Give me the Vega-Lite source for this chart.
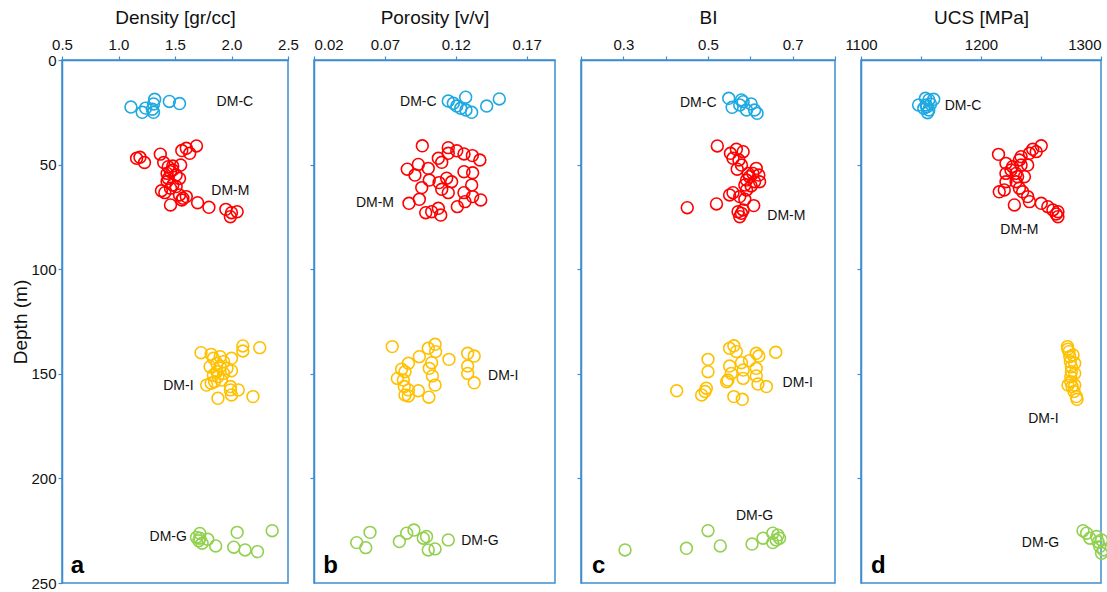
{
  "$schema": "https://vega.github.io/schema/vega-lite/v6.json",
  "padding": {"left": 11, "top": 7, "right": 0, "bottom": 5},
  "background": "white",
  "spacing": 26,
  "bounds": "flush",
  "config": {
    "font": "Liberation Sans",
    "view": {"stroke": "#3C8DD2", "strokeWidth": 1.5},
    "axis": {
      "domainColor": "#3C8DD2", "domainWidth": 1.5, "tickColor": "#3C8DD2", "tickWidth": 1.2,
      "tickSize": 4, "labelFont": "Liberation Sans", "titleFont": "Liberation Sans",
      "labelFontSize": 15, "titleFontSize": 19, "titleFontWeight": "normal",
      "labelColor": "#111", "titleColor": "#111", "grid": false, "labelPadding": 4,
      "labelOverlap": false, "labelFlush": false, "titlePadding": 10
    }
  },
  "datasets": {
    "pts": [
      {"p":"a","g":"DM-C","v":1.11,"d":22.5},{"p":"a","g":"DM-C","v":1.21,"d":25},{"p":"a","g":"DM-C","v":1.24,"d":23},{"p":"a","g":"DM-C","v":1.32,"d":18.8},{"p":"a","g":"DM-C","v":1.31,"d":21},{"p":"a","g":"DM-C","v":1.30,"d":23.5},{"p":"a","g":"DM-C","v":1.31,"d":25},{"p":"a","g":"DM-C","v":1.45,"d":19.8},{"p":"a","g":"DM-C","v":1.54,"d":20.8},
      {"p":"a","g":"DM-M","v":1.16,"d":47},{"p":"a","g":"DM-M","v":1.19,"d":46.5},{"p":"a","g":"DM-M","v":1.23,"d":49},{"p":"a","g":"DM-M","v":1.37,"d":45},{"p":"a","g":"DM-M","v":1.40,"d":49},{"p":"a","g":"DM-M","v":1.44,"d":51},{"p":"a","g":"DM-M","v":1.48,"d":50.7},{"p":"a","g":"DM-M","v":1.55,"d":50.2},{"p":"a","g":"DM-M","v":1.56,"d":43.3},{"p":"a","g":"DM-M","v":1.60,"d":42.2},{"p":"a","g":"DM-M","v":1.63,"d":44.6},{"p":"a","g":"DM-M","v":1.69,"d":41.1},{"p":"a","g":"DM-M","v":1.43,"d":54.2},{"p":"a","g":"DM-M","v":1.46,"d":53.4},{"p":"a","g":"DM-M","v":1.48,"d":52.6},{"p":"a","g":"DM-M","v":1.51,"d":55},{"p":"a","g":"DM-M","v":1.54,"d":56.6},{"p":"a","g":"DM-M","v":1.43,"d":58.1},{"p":"a","g":"DM-M","v":1.38,"d":62.5},{"p":"a","g":"DM-M","v":1.41,"d":63.4},{"p":"a","g":"DM-M","v":1.46,"d":61.3},{"p":"a","g":"DM-M","v":1.48,"d":59.8},{"p":"a","g":"DM-M","v":1.54,"d":64.5},{"p":"a","g":"DM-M","v":1.56,"d":66.9},{"p":"a","g":"DM-M","v":1.57,"d":66.1},{"p":"a","g":"DM-M","v":1.60,"d":65.3},{"p":"a","g":"DM-M","v":1.46,"d":69.3},{"p":"a","g":"DM-M","v":1.70,"d":68.2},{"p":"a","g":"DM-M","v":1.80,"d":70.4},{"p":"a","g":"DM-M","v":1.95,"d":71.4},{"p":"a","g":"DM-M","v":2.0,"d":73},{"p":"a","g":"DM-M","v":2.05,"d":72.5},{"p":"a","g":"DM-M","v":1.99,"d":74.9},{"p":"a","g":"DM-M","v":1.51,"d":60.5},{"p":"a","g":"DM-M","v":1.44,"d":56.6},
      {"p":"a","g":"DM-I","v":1.73,"d":139.9},{"p":"a","g":"DM-I","v":1.82,"d":140.7},{"p":"a","g":"DM-I","v":1.84,"d":142.6},{"p":"a","g":"DM-I","v":1.87,"d":145},{"p":"a","g":"DM-I","v":1.90,"d":146.6},{"p":"a","g":"DM-I","v":1.93,"d":144.2},{"p":"a","g":"DM-I","v":2.0,"d":142.6},{"p":"a","g":"DM-I","v":2.10,"d":136.7},{"p":"a","g":"DM-I","v":2.10,"d":139.1},{"p":"a","g":"DM-I","v":2.25,"d":137.5},{"p":"a","g":"DM-I","v":1.78,"d":155.4},{"p":"a","g":"DM-I","v":1.82,"d":154.5},{"p":"a","g":"DM-I","v":1.84,"d":150.6},{"p":"a","g":"DM-I","v":1.87,"d":149},{"p":"a","g":"DM-I","v":1.88,"d":151.4},{"p":"a","g":"DM-I","v":1.93,"d":149.8},{"p":"a","g":"DM-I","v":1.96,"d":147.4},{"p":"a","g":"DM-I","v":2.0,"d":148.5},{"p":"a","g":"DM-I","v":1.88,"d":161.7},{"p":"a","g":"DM-I","v":1.99,"d":157.7},{"p":"a","g":"DM-I","v":2.0,"d":160.1},{"p":"a","g":"DM-I","v":2.06,"d":157.7},{"p":"a","g":"DM-I","v":2.19,"d":160.9},{"p":"a","g":"DM-I","v":1.85,"d":153.8},{"p":"a","g":"DM-I","v":1.91,"d":153},{"p":"a","g":"DM-I","v":1.99,"d":156.1},{"p":"a","g":"DM-I","v":1.81,"d":146.6},{"p":"a","g":"DM-I","v":1.90,"d":141.8},
      {"p":"a","g":"DM-G","v":1.72,"d":226.3},{"p":"a","g":"DM-G","v":1.69,"d":228.2},{"p":"a","g":"DM-G","v":1.71,"d":229.8},{"p":"a","g":"DM-G","v":1.74,"d":231},{"p":"a","g":"DM-G","v":1.79,"d":229.1},{"p":"a","g":"DM-G","v":1.86,"d":232.3},{"p":"a","g":"DM-G","v":2.02,"d":232.9},{"p":"a","g":"DM-G","v":2.05,"d":225.8},{"p":"a","g":"DM-G","v":2.12,"d":234.2},{"p":"a","g":"DM-G","v":2.23,"d":235},{"p":"a","g":"DM-G","v":2.36,"d":225},{"p":"a","g":"DM-G","v":1.72,"d":228.6},

      {"p":"b","g":"DM-C","v":0.1147,"d":19.6},{"p":"b","g":"DM-C","v":0.1183,"d":20.7},{"p":"b","g":"DM-C","v":0.1207,"d":22},{"p":"b","g":"DM-C","v":0.1235,"d":23.1},{"p":"b","g":"DM-C","v":0.127,"d":17.8},{"p":"b","g":"DM-C","v":0.1312,"d":25},{"p":"b","g":"DM-C","v":0.1272,"d":23.9},{"p":"b","g":"DM-C","v":0.1418,"d":22},{"p":"b","g":"DM-C","v":0.1507,"d":18.6},
      {"p":"b","g":"DM-M","v":0.0964,"d":41},{"p":"b","g":"DM-M","v":0.1147,"d":41.9},{"p":"b","g":"DM-M","v":0.1207,"d":43.4},{"p":"b","g":"DM-M","v":0.1147,"d":44.6},{"p":"b","g":"DM-M","v":0.1258,"d":44.9},{"p":"b","g":"DM-M","v":0.1317,"d":45.7},{"p":"b","g":"DM-M","v":0.137,"d":47.8},{"p":"b","g":"DM-M","v":0.1077,"d":47},{"p":"b","g":"DM-M","v":0.1101,"d":48.9},{"p":"b","g":"DM-M","v":0.0936,"d":49.9},{"p":"b","g":"DM-M","v":0.0858,"d":52.2},{"p":"b","g":"DM-M","v":0.0912,"d":55},{"p":"b","g":"DM-M","v":0.1006,"d":51.8},{"p":"b","g":"DM-M","v":0.1258,"d":53.4},{"p":"b","g":"DM-M","v":0.1319,"d":53.9},{"p":"b","g":"DM-M","v":0.1013,"d":57.4},{"p":"b","g":"DM-M","v":0.1082,"d":58.6},{"p":"b","g":"DM-M","v":0.1136,"d":56.5},{"p":"b","g":"DM-M","v":0.1171,"d":58.2},{"p":"b","g":"DM-M","v":0.1312,"d":59.8},{"p":"b","g":"DM-M","v":0.096,"d":61},{"p":"b","g":"DM-M","v":0.1101,"d":61.8},{"p":"b","g":"DM-M","v":0.1147,"d":63.4},{"p":"b","g":"DM-M","v":0.1258,"d":63.4},{"p":"b","g":"DM-M","v":0.1319,"d":65.3},{"p":"b","g":"DM-M","v":0.0943,"d":66.6},{"p":"b","g":"DM-M","v":0.087,"d":68.5},{"p":"b","g":"DM-M","v":0.1211,"d":70.1},{"p":"b","g":"DM-M","v":0.1265,"d":67.7},{"p":"b","g":"DM-M","v":0.1376,"d":66.9},{"p":"b","g":"DM-M","v":0.0988,"d":73},{"p":"b","g":"DM-M","v":0.103,"d":72.5},{"p":"b","g":"DM-M","v":0.1077,"d":70.9},{"p":"b","g":"DM-M","v":0.1094,"d":74.1},
      {"p":"b","g":"DM-I","v":0.0752,"d":137},{"p":"b","g":"DM-I","v":0.1006,"d":137.8},{"p":"b","g":"DM-I","v":0.1054,"d":135.9},{"p":"b","g":"DM-I","v":0.1058,"d":139.4},{"p":"b","g":"DM-I","v":0.0943,"d":141.8},{"p":"b","g":"DM-I","v":0.0866,"d":145},{"p":"b","g":"DM-I","v":0.103,"d":144.7},{"p":"b","g":"DM-I","v":0.1152,"d":143.1},{"p":"b","g":"DM-I","v":0.1284,"d":140.2},{"p":"b","g":"DM-I","v":0.133,"d":141.5},{"p":"b","g":"DM-I","v":0.0818,"d":147.8},{"p":"b","g":"DM-I","v":0.0842,"d":149},{"p":"b","g":"DM-I","v":0.1013,"d":147.4},{"p":"b","g":"DM-I","v":0.1284,"d":146.3},{"p":"b","g":"DM-I","v":0.0788,"d":152.2},{"p":"b","g":"DM-I","v":0.083,"d":153},{"p":"b","g":"DM-I","v":0.1035,"d":151},{"p":"b","g":"DM-I","v":0.1284,"d":149.8},{"p":"b","g":"DM-I","v":0.133,"d":154.3},{"p":"b","g":"DM-I","v":0.0837,"d":156.1},{"p":"b","g":"DM-I","v":0.0866,"d":157.7},{"p":"b","g":"DM-I","v":0.0936,"d":158.1},{"p":"b","g":"DM-I","v":0.1054,"d":155.4},{"p":"b","g":"DM-I","v":0.0842,"d":160.1},{"p":"b","g":"DM-I","v":0.0866,"d":160.6},{"p":"b","g":"DM-I","v":0.101,"d":161.2},
      {"p":"b","g":"DM-G","v":0.0595,"d":225.8},{"p":"b","g":"DM-G","v":0.0501,"d":230.7},{"p":"b","g":"DM-G","v":0.0565,"d":233.1},{"p":"b","g":"DM-G","v":0.0802,"d":230.2},{"p":"b","g":"DM-G","v":0.0854,"d":226.2},{"p":"b","g":"DM-G","v":0.0905,"d":224.7},{"p":"b","g":"DM-G","v":0.0971,"d":228.6},{"p":"b","g":"DM-G","v":0.0994,"d":227.8},{"p":"b","g":"DM-G","v":0.1006,"d":234.2},{"p":"b","g":"DM-G","v":0.1054,"d":233.7},{"p":"b","g":"DM-G","v":0.1147,"d":229.4},

      {"p":"c","g":"DM-C","v":0.549,"d":18.3},{"p":"c","g":"DM-C","v":0.557,"d":22.6},{"p":"c","g":"DM-C","v":0.579,"d":19.1},{"p":"c","g":"DM-C","v":0.583,"d":19.9},{"p":"c","g":"DM-C","v":0.591,"d":23.9},{"p":"c","g":"DM-C","v":0.602,"d":21},{"p":"c","g":"DM-C","v":0.610,"d":23.9},{"p":"c","g":"DM-C","v":0.616,"d":25.5},{"p":"c","g":"DM-C","v":0.575,"d":21.5},
      {"p":"c","g":"DM-M","v":0.522,"d":41.1},{"p":"c","g":"DM-M","v":0.553,"d":44.6},{"p":"c","g":"DM-M","v":0.567,"d":42.7},{"p":"c","g":"DM-M","v":0.583,"d":43.8},{"p":"c","g":"DM-M","v":0.559,"d":47},{"p":"c","g":"DM-M","v":0.573,"d":47.8},{"p":"c","g":"DM-M","v":0.579,"d":50.2},{"p":"c","g":"DM-M","v":0.614,"d":51.8},{"p":"c","g":"DM-M","v":0.620,"d":55},{"p":"c","g":"DM-M","v":0.606,"d":54.2},{"p":"c","g":"DM-M","v":0.595,"d":54.2},{"p":"c","g":"DM-M","v":0.622,"d":58.2},{"p":"c","g":"DM-M","v":0.610,"d":58.2},{"p":"c","g":"DM-M","v":0.602,"d":60.2},{"p":"c","g":"DM-M","v":0.591,"d":57.4},{"p":"c","g":"DM-M","v":0.587,"d":59.8},{"p":"c","g":"DM-M","v":0.591,"d":62.1},{"p":"c","g":"DM-M","v":0.559,"d":63.4},{"p":"c","g":"DM-M","v":0.551,"d":64.5},{"p":"c","g":"DM-M","v":0.575,"d":65.3},{"p":"c","g":"DM-M","v":0.587,"d":66.6},{"p":"c","g":"DM-M","v":0.451,"d":70.6},{"p":"c","g":"DM-M","v":0.520,"d":68.8},{"p":"c","g":"DM-M","v":0.608,"d":69.6},{"p":"c","g":"DM-M","v":0.571,"d":72.5},{"p":"c","g":"DM-M","v":0.575,"d":74.9},{"p":"c","g":"DM-M","v":0.579,"d":73.3},{"p":"c","g":"DM-M","v":0.583,"d":71.7},{"p":"c","g":"DM-M","v":0.569,"d":52.2},{"p":"c","g":"DM-M","v":0.598,"d":55.8},
      {"p":"c","g":"DM-I","v":0.551,"d":137.8},{"p":"c","g":"DM-I","v":0.561,"d":136.6},{"p":"c","g":"DM-I","v":0.567,"d":139.4},{"p":"c","g":"DM-I","v":0.500,"d":143.1},{"p":"c","g":"DM-I","v":0.500,"d":149},{"p":"c","g":"DM-I","v":0.551,"d":146.3},{"p":"c","g":"DM-I","v":0.579,"d":144.7},{"p":"c","g":"DM-I","v":0.598,"d":143.7},{"p":"c","g":"DM-I","v":0.614,"d":140.2},{"p":"c","g":"DM-I","v":0.620,"d":141.5},{"p":"c","g":"DM-I","v":0.660,"d":139.7},{"p":"c","g":"DM-I","v":0.555,"d":149.8},{"p":"c","g":"DM-I","v":0.583,"d":148.2},{"p":"c","g":"DM-I","v":0.614,"d":147.4},{"p":"c","g":"DM-I","v":0.547,"d":153},{"p":"c","g":"DM-I","v":0.583,"d":152.2},{"p":"c","g":"DM-I","v":0.614,"d":151},{"p":"c","g":"DM-I","v":0.618,"d":154.9},{"p":"c","g":"DM-I","v":0.638,"d":156.1},{"p":"c","g":"DM-I","v":0.426,"d":158.1},{"p":"c","g":"DM-I","v":0.496,"d":156.9},{"p":"c","g":"DM-I","v":0.493,"d":158.5},{"p":"c","g":"DM-I","v":0.485,"d":160.1},{"p":"c","g":"DM-I","v":0.561,"d":160.9},{"p":"c","g":"DM-I","v":0.581,"d":162.2},{"p":"c","g":"DM-I","v":0.544,"d":153.8},
      {"p":"c","g":"DM-G","v":0.304,"d":234.2},{"p":"c","g":"DM-G","v":0.449,"d":233.4},{"p":"c","g":"DM-G","v":0.500,"d":225},{"p":"c","g":"DM-G","v":0.529,"d":232.3},{"p":"c","g":"DM-G","v":0.604,"d":231.4},{"p":"c","g":"DM-G","v":0.630,"d":228.6},{"p":"c","g":"DM-G","v":0.653,"d":226.2},{"p":"c","g":"DM-G","v":0.665,"d":227.1},{"p":"c","g":"DM-G","v":0.669,"d":228.6},{"p":"c","g":"DM-G","v":0.653,"d":230.7},{"p":"c","g":"DM-G","v":0.661,"d":229.4},

      {"p":"d","g":"DM-C","v":1148,"d":21.5},{"p":"d","g":"DM-C","v":1153.7,"d":18.3},{"p":"d","g":"DM-C","v":1156.5,"d":19.1},{"p":"d","g":"DM-C","v":1160.6,"d":18.8},{"p":"d","g":"DM-C","v":1155,"d":22.3},{"p":"d","g":"DM-C","v":1152.3,"d":23.1},{"p":"d","g":"DM-C","v":1156.5,"d":23.9},{"p":"d","g":"DM-C","v":1154.2,"d":21.5},{"p":"d","g":"DM-C","v":1157.9,"d":21},{"p":"d","g":"DM-C","v":1155.5,"d":25.2},
      {"p":"d","g":"DM-M","v":1214.6,"d":45.1},{"p":"d","g":"DM-M","v":1250.2,"d":41},{"p":"d","g":"DM-M","v":1243.1,"d":42.7},{"p":"d","g":"DM-M","v":1246,"d":43.8},{"p":"d","g":"DM-M","v":1240.4,"d":44.6},{"p":"d","g":"DM-M","v":1233.4,"d":46.2},{"p":"d","g":"DM-M","v":1232,"d":47.8},{"p":"d","g":"DM-M","v":1220.8,"d":49.4},{"p":"d","g":"DM-M","v":1226.3,"d":51},{"p":"d","g":"DM-M","v":1233.4,"d":50.2},{"p":"d","g":"DM-M","v":1238.9,"d":50.2},{"p":"d","g":"DM-M","v":1220.8,"d":54.2},{"p":"d","g":"DM-M","v":1229.2,"d":54.2},{"p":"d","g":"DM-M","v":1236.2,"d":55.8},{"p":"d","g":"DM-M","v":1220.8,"d":58.2},{"p":"d","g":"DM-M","v":1229.2,"d":58.2},{"p":"d","g":"DM-M","v":1215.2,"d":63},{"p":"d","g":"DM-M","v":1219.4,"d":62.1},{"p":"d","g":"DM-M","v":1232,"d":61.3},{"p":"d","g":"DM-M","v":1234.7,"d":63},{"p":"d","g":"DM-M","v":1238.9,"d":65.3},{"p":"d","g":"DM-M","v":1240.4,"d":67.7},{"p":"d","g":"DM-M","v":1227.8,"d":69.3},{"p":"d","g":"DM-M","v":1250.2,"d":68.5},{"p":"d","g":"DM-M","v":1255.7,"d":70.1},{"p":"d","g":"DM-M","v":1259.9,"d":71.7},{"p":"d","g":"DM-M","v":1264.1,"d":72.5},{"p":"d","g":"DM-M","v":1264.1,"d":74.9},{"p":"d","g":"DM-M","v":1262.7,"d":73.6},{"p":"d","g":"DM-M","v":1230.5,"d":55.8},{"p":"d","g":"DM-M","v":1225,"d":52.6},
      {"p":"d","g":"DM-I","v":1272,"d":137},{"p":"d","g":"DM-I","v":1273.3,"d":139.4},{"p":"d","g":"DM-I","v":1274,"d":141.8},{"p":"d","g":"DM-I","v":1274.5,"d":144.2},{"p":"d","g":"DM-I","v":1275.3,"d":146.6},{"p":"d","g":"DM-I","v":1275.3,"d":149},{"p":"d","g":"DM-I","v":1274.8,"d":151.4},{"p":"d","g":"DM-I","v":1274.8,"d":153.8},{"p":"d","g":"DM-I","v":1275.9,"d":156.1},{"p":"d","g":"DM-I","v":1277.5,"d":158.5},{"p":"d","g":"DM-I","v":1279.5,"d":160.9},{"p":"d","g":"DM-I","v":1272.4,"d":138.2},{"p":"d","g":"DM-I","v":1276.7,"d":141},{"p":"d","g":"DM-I","v":1278.1,"d":145},{"p":"d","g":"DM-I","v":1278.1,"d":149.8},{"p":"d","g":"DM-I","v":1272.5,"d":155.4},{"p":"d","g":"DM-I","v":1278.1,"d":155.4},{"p":"d","g":"DM-I","v":1280,"d":162.2},
      {"p":"d","g":"DM-G","v":1285,"d":225},{"p":"d","g":"DM-G","v":1288,"d":226.2},{"p":"d","g":"DM-G","v":1290.7,"d":228.6},{"p":"d","g":"DM-G","v":1296.3,"d":227.8},{"p":"d","g":"DM-G","v":1300.5,"d":229.4},{"p":"d","g":"DM-G","v":1299,"d":232.6},{"p":"d","g":"DM-G","v":1300.5,"d":235.8},{"p":"d","g":"DM-G","v":1302,"d":234.2},{"p":"d","g":"DM-G","v":1297.7,"d":230.4}
    ],
    "labs": [
      {"p":"a","t":"DM-C","v":2.03,"d":20.1},{"p":"a","t":"DM-M","v":1.99,"d":62.5},{"p":"a","t":"DM-I","v":1.53,"d":156},{"p":"a","t":"DM-G","v":1.44,"d":228},
      {"p":"b","t":"DM-C","v":0.0936,"d":20.2},{"p":"b","t":"DM-M","v":0.063,"d":68.2},{"p":"b","t":"DM-I","v":0.1535,"d":151},{"p":"b","t":"DM-G","v":0.137,"d":229.8},
      {"p":"c","t":"DM-C","v":0.477,"d":20.4},{"p":"c","t":"DM-M","v":0.685,"d":74.6},{"p":"c","t":"DM-I","v":0.712,"d":154.6},{"p":"c","t":"DM-G","v":0.610,"d":217.8},
      {"p":"d","t":"DM-C","v":1185,"d":22},{"p":"d","t":"DM-M","v":1232,"d":81.3},{"p":"d","t":"DM-I","v":1252,"d":171.8},{"p":"d","t":"DM-G","v":1249.6,"d":230.7}
    ],
    "lets": [
      {"p":"a","t":"a","v":0.577,"d":245},{"p":"b","t":"b","v":0.0266,"d":245},{"p":"c","t":"c","v":0.226,"d":245},{"p":"d","t":"d","v":1108.4,"d":245}
    ]
  },
  "hconcat": [
    {
      "width": 226, "height": 523,
      "encoding": {
        "x": {"field": "v", "type": "quantitative", "scale": {"domain": [0.5, 2.5], "nice": false, "zero": false},
              "axis": {"orient": "top", "title": "Density [gr/cc]", "values": [0.5, 1, 1.5, 2, 2.5], "format": ".1f"}},
        "y": {"field": "d", "type": "quantitative", "scale": {"domain": [0, 250], "reverse": true, "nice": false, "zero": false},
              "axis": {"title": "Depth (m)", "values": [0, 50, 100, 150, 200, 250], "titlePadding": 0, "labelPadding": 2}}
      },
      "layer": [
        {"data": {"name": "pts"}, "transform": [{"filter": "datum.p == 'a'"}],
         "mark": {"type": "point", "shape": "circle", "filled": false, "size": 140, "strokeWidth": 1.6, "opacity": 1},
         "encoding": {"color": {"field": "g", "type": "nominal", "legend": null,
           "scale": {"domain": ["DM-C", "DM-M", "DM-I", "DM-G"], "range": ["#1FA9E1", "#FF0000", "#FFC000", "#92D050"]}}}},
        {"data": {"name": "labs"}, "transform": [{"filter": "datum.p == 'a'"}],
         "mark": {"type": "text", "fontSize": 14, "font": "Liberation Sans", "color": "#111", "align": "center", "baseline": "middle"},
         "encoding": {"text": {"field": "t"}}},
        {"data": {"name": "lets"}, "transform": [{"filter": "datum.p == 'a'"}],
         "mark": {"type": "text", "fontSize": 24, "fontWeight": "bold", "font": "Liberation Sans", "color": "#000", "align": "left", "baseline": "alphabetic"},
         "encoding": {"text": {"field": "t"}}}
      ]
    },
    {
      "width": 241, "height": 523,
      "encoding": {
        "x": {"field": "v", "type": "quantitative", "scale": {"domain": [0.02, 0.19], "nice": false, "zero": false},
              "axis": {"orient": "top", "title": "Porosity [v/v]", "values": [0.02, 0.07, 0.12, 0.17], "format": ".2f",
                       "labelAlign": {"condition": {"test": "datum.value < 0.03", "value": "left"}, "value": "center"}}},
        "y": {"field": "d", "type": "quantitative", "scale": {"domain": [0, 250], "reverse": true, "nice": false, "zero": false},
              "axis": {"title": null, "labels": false, "values": [50, 100, 150, 200]}}
      },
      "layer": [
        {"data": {"name": "pts"}, "transform": [{"filter": "datum.p == 'b'"}],
         "mark": {"type": "point", "shape": "circle", "filled": false, "size": 140, "strokeWidth": 1.6, "opacity": 1},
         "encoding": {"color": {"field": "g", "type": "nominal", "legend": null,
           "scale": {"domain": ["DM-C", "DM-M", "DM-I", "DM-G"], "range": ["#1FA9E1", "#FF0000", "#FFC000", "#92D050"]}}}},
        {"data": {"name": "labs"}, "transform": [{"filter": "datum.p == 'b'"}],
         "mark": {"type": "text", "fontSize": 14, "font": "Liberation Sans", "color": "#111", "align": "center", "baseline": "middle"},
         "encoding": {"text": {"field": "t"}}},
        {"data": {"name": "lets"}, "transform": [{"filter": "datum.p == 'b'"}],
         "mark": {"type": "text", "fontSize": 24, "fontWeight": "bold", "font": "Liberation Sans", "color": "#000", "align": "left", "baseline": "alphabetic"},
         "encoding": {"text": {"field": "t"}}}
      ]
    },
    {
      "width": 254, "height": 523,
      "encoding": {
        "x": {"field": "v", "type": "quantitative", "scale": {"domain": [0.2, 0.8], "nice": false, "zero": false},
              "axis": {"orient": "top", "title": "BI", "values": [0.2, 0.3, 0.4, 0.5, 0.6, 0.7, 0.8],
                       "labelExpr": "(abs(datum.value - 0.3) < 0.001 || abs(datum.value - 0.5) < 0.001 || abs(datum.value - 0.7) < 0.001) ? format(datum.value, '.1f') : ''"}},
        "y": {"field": "d", "type": "quantitative", "scale": {"domain": [0, 250], "reverse": true, "nice": false, "zero": false},
              "axis": {"title": null, "labels": false, "values": [50, 100, 150, 200]}}
      },
      "layer": [
        {"data": {"name": "pts"}, "transform": [{"filter": "datum.p == 'c'"}],
         "mark": {"type": "point", "shape": "circle", "filled": false, "size": 140, "strokeWidth": 1.6, "opacity": 1},
         "encoding": {"color": {"field": "g", "type": "nominal", "legend": null,
           "scale": {"domain": ["DM-C", "DM-M", "DM-I", "DM-G"], "range": ["#1FA9E1", "#FF0000", "#FFC000", "#92D050"]}}}},
        {"data": {"name": "labs"}, "transform": [{"filter": "datum.p == 'c'"}],
         "mark": {"type": "text", "fontSize": 14, "font": "Liberation Sans", "color": "#111", "align": "center", "baseline": "middle"},
         "encoding": {"text": {"field": "t"}}},
        {"data": {"name": "lets"}, "transform": [{"filter": "datum.p == 'c'"}],
         "mark": {"type": "text", "fontSize": 24, "fontWeight": "bold", "font": "Liberation Sans", "color": "#000", "align": "left", "baseline": "alphabetic"},
         "encoding": {"text": {"field": "t"}}}
      ]
    },
    {
      "width": 240, "height": 523,
      "encoding": {
        "x": {"field": "v", "type": "quantitative", "scale": {"domain": [1100, 1300], "nice": false, "zero": false},
              "axis": {"orient": "top", "title": "UCS [MPa]", "values": [1100, 1150, 1200, 1250, 1300],
                       "labelExpr": "datum.value % 100 == 0 ? format(datum.value, 'd') : ''",
                       "labelAlign": {"condition": {"test": "datum.value > 1290", "value": "right"}, "value": "center"}}},
        "y": {"field": "d", "type": "quantitative", "scale": {"domain": [0, 250], "reverse": true, "nice": false, "zero": false},
              "axis": {"title": null, "labels": false, "values": [50, 100, 150, 200]}}
      },
      "layer": [
        {"data": {"name": "pts"}, "transform": [{"filter": "datum.p == 'd'"}],
         "mark": {"type": "point", "shape": "circle", "filled": false, "size": 140, "strokeWidth": 1.6, "opacity": 1},
         "encoding": {"color": {"field": "g", "type": "nominal", "legend": null,
           "scale": {"domain": ["DM-C", "DM-M", "DM-I", "DM-G"], "range": ["#1FA9E1", "#FF0000", "#FFC000", "#92D050"]}}}},
        {"data": {"name": "labs"}, "transform": [{"filter": "datum.p == 'd'"}],
         "mark": {"type": "text", "fontSize": 14, "font": "Liberation Sans", "color": "#111", "align": "center", "baseline": "middle"},
         "encoding": {"text": {"field": "t"}}},
        {"data": {"name": "lets"}, "transform": [{"filter": "datum.p == 'd'"}],
         "mark": {"type": "text", "fontSize": 24, "fontWeight": "bold", "font": "Liberation Sans", "color": "#000", "align": "left", "baseline": "alphabetic"},
         "encoding": {"text": {"field": "t"}}}
      ]
    }
  ]
}
